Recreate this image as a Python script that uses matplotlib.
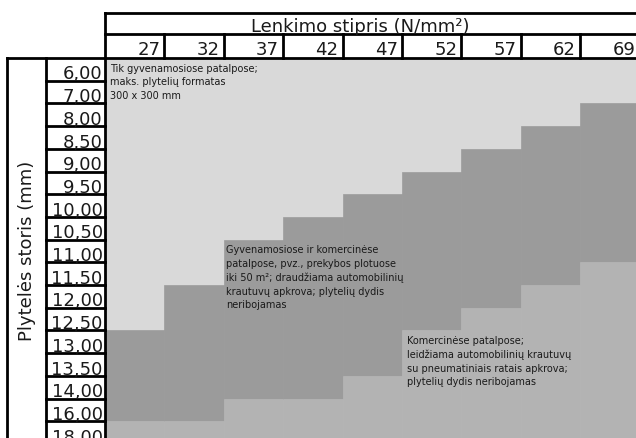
import matplotlib
matplotlib.use("Agg")
import matplotlib.pyplot as plt

# bending strength classes (columns) and tile thickness (rows)
strengths = [27, 32, 37, 42, 47, 52, 57, 62, 69]
thickness = ['6,00', '7,00', '8,00', '8,50', '9,00', '9,50', '10,00', '10,50', '11,00',
             '11,50', '12,00', '12,50', '13,00', '13,50', '14,00', '16,00', '18,00']

# thickness from which each zone starts, per strength column
mid_from = ['13,00', '12,00', '11,00', '10,50', '10,00', '9,50', '9,00', '8,50', '8,00']
low_from = ['18,00', '18,00', '16,00', '16,00', '14,00', '13,00', '12,50', '12,00', '11,50']

zone_texts = [
    'Tik gyvenamosiose patalpose;\nmaks. plytelių formatas\n300 x 300 mm',
    'Gyvenamosiose ir komercinėse\npatalpose, pvz., prekybos plotuose\niki 50 m²; draudžiama automobilinių\nkrautuvų apkrova; plytelių dydis\nneribojamas',
    'Komercinėse patalpose;\nleidžiama automobilinių krautuvų\nsu pneumatiniais ratais apkrova;\nplytelių dydis neribojamas',
]

c_top = '#d9d9d9'
c_mid = '#9b9b9b'
c_low = '#b3b3b3'
txt = '#1a1a1a'

W, H = 636, 439
col_w, row_h = 59.375, 22.7
ox, oy = 105, 59

fig = plt.figure(figsize=(W / 100, H / 100), dpi=100)
ax = fig.add_axes([0, 0, 1, 1])
ax.axis('off')
ax.set_xlim(-ox / col_w, (W - ox) / col_w)
ax.set_ylim((H - oy) / row_h, -oy / row_h)

n = len(thickness)
for i in range(len(strengths)):
    a = thickness.index(mid_from[i])
    b = thickness.index(low_from[i])
    ax.bar(i, a, bottom=0, width=1, align='edge', color=c_top, edgecolor=c_top, lw=0.5)
    ax.bar(i, b - a, bottom=a, width=1, align='edge', color=c_mid, edgecolor=c_mid, lw=0.5)
    ax.bar(i, n + 1 - b, bottom=b, width=1, align='edge', color=c_low, edgecolor=c_low, lw=0.5)

# table lines
lw = 2
xr = (W - ox) / col_w + 1
yb = (H - oy) / row_h + 1
h_top = (14 - oy) / row_h
h_mid = (35 - oy) / row_h
x_box = (7 - ox) / col_w
x_lab = (46 - ox) / col_w
ax.plot([0, xr], [h_top, h_top], color='black', lw=lw)
ax.plot([0, xr], [h_mid, h_mid], color='black', lw=lw)
ax.plot([x_box, xr], [0, 0], color='black', lw=lw)
ax.plot([0, 0], [h_top, yb], color='black', lw=lw)
ax.plot([x_box, x_box], [0, yb], color='black', lw=lw)
ax.plot([x_lab, x_lab], [0, yb], color='black', lw=lw)
for i in range(1, len(strengths)):
    ax.plot([i, i], [h_mid, 0], color='black', lw=lw)
for j in range(1, n):
    ax.plot([x_lab, 0], [j, j], color='black', lw=lw)

# header texts
ax.text((360 - ox) / col_w, (32 - oy) / row_h, 'Lenkimo stipris (N/mm²)',
        ha='center', va='baseline', fontsize=13, color=txt)
for i, s in enumerate(strengths):
    ax.text(i + 0.93, -0.16, str(s), ha='right', va='baseline', fontsize=13, color=txt)
for j, t in enumerate(thickness):
    ax.text(-0.04, j + 0.9, t, ha='right', va='baseline', fontsize=13, color=txt)
ax.text((27 - ox) / col_w, 8.45, 'Plytelės storis (mm)', rotation=90,
        ha='center', va='center', fontsize=13, color=txt)

# zone descriptions
ax.text(0.08, 0.2, zone_texts[0], ha='left', va='top', fontsize=7, color=txt, linespacing=1.45)
ax.text(2.04, 8.2, zone_texts[1], ha='left', va='top', fontsize=7, color=txt, linespacing=1.45)
ax.text(5.08, 12.2, zone_texts[2], ha='left', va='top', fontsize=7, color=txt, linespacing=1.45)

fig.savefig('out.png', dpi=100)
